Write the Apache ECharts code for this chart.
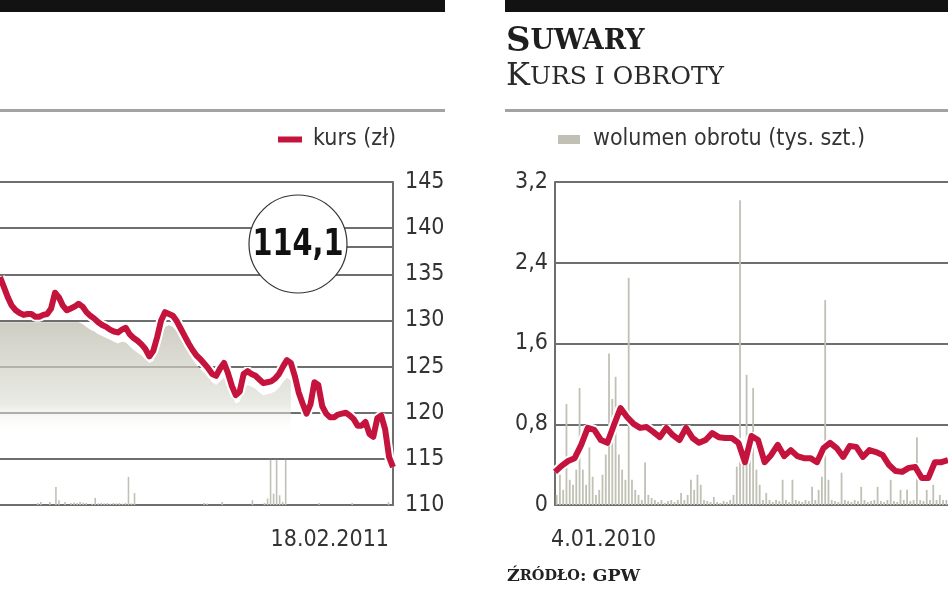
<!DOCTYPE html>
<html><head><meta charset="utf-8">
<script src="https://cdn.jsdelivr.net/npm/echarts@6/dist/echarts.min.js"></script>
<style>html,body{margin:0;padding:0;background:#fff}#c{width:948px;height:593px}</style>
</head><body><div id="c"></div>
<script>
// ---- LEFT CHART (cropped, right part visible) ----
const leftTickLabels = ['18.02.2011'];
const leftKurs = [134.7,133.6,132.5,131.6,131.1,130.8,130.6,130.7,130.7,130.4,130.4,130.6,130.7,131.3,133.0,132.5,131.6,131.1,131.3,131.5,
131.8,131.5,130.9,130.5,130.2,129.8,129.5,129.3,129.0,128.8,128.7,129.0,129.2,128.5,128.1,127.8,127.4,126.9,126.1,126.7,
128.2,130.0,130.9,130.7,130.5,129.9,129.1,128.3,127.5,126.8,126.2,125.8,125.3,124.8,124.2,124.0,124.8,125.4,124.3,122.9,
121.9,122.3,124.2,124.5,124.2,124.0,123.6,123.2,123.3,123.4,123.7,124.2,125.0,125.7,125.4,124.0,122.2,121.0,119.9,120.9,
123.3,123.0,120.7,119.9,119.5,119.5,119.8,119.9,120.0,119.7,119.3,118.6,118.6,119.0,117.7,117.4,119.4,119.7,118.2,115.2,114.1];
const leftTlo = [129.8,129.8,129.8,129.8,129.8,129.8,129.8,129.8,129.8,129.8,129.8,129.8,129.8,129.8,129.8,129.8,129.8,129.8,129.8,129.8,
129.8,129.6,129.3,129.0,128.8,128.5,128.3,128.1,127.9,127.7,127.5,127.7,127.6,127.2,126.8,126.5,126.2,125.8,125.4,125.6,
126.8,128.3,129.3,129.5,129.3,128.8,128.0,127.2,126.5,125.8,125.2,124.7,124.3,123.8,123.3,123.0,123.4,123.8,123.0,121.8,
121.0,121.2,122.5,123.0,122.8,122.6,122.2,121.9,122.0,122.1,122.3,122.7,123.3,123.8,123.5,null,null,null,null,null,
null,null,null,null,null,null,null,null,null,null,null,null,null,null,null,null,null,null,null,null,null];
const leftWolumen = [0,0,0,0,0,0,0,0,0,0,0,0,0.06,0.09,0,0,0.09,0,0.56,0.15,
0,0.09,0,0.06,0.08,0.06,0.09,0.07,0.06,0,0.04,0.22,0.05,0.06,0.05,0.06,0.04,0.06,0.05,0.06,
0.04,0.06,0.87,0.05,0.37,0,0,0,0,0,0,0,0,0,0,0,0,0,0,0,
0,0,0,0,0,0,0,0.06,0.05,0,0,0,0,0.09,0,0,0,0,0,0,
0,0,0,0.15,0,0,0,0.06,0.2,1.4,0.35,1.4,0.3,0.1,1.4,0,0,0,0,0,
0,0,0,0,0,0.06,0,0,0,0,0,0,0,0,0,0,0.06,0,0,0,
0,0,0,0,0,0,0,0,0.09,0];
const leftCallout = leftKurs[leftKurs.length - 1];

// ---- RIGHT CHART: SUWARY (cropped, left part visible) ----
const rightTickLabels = ['4.01.2010'];
const rightKurs = [68.2,69.7,70.9,71.6,74.9,79.1,78.6,76.1,75.4,79.8,84.0,81.8,80.1,79.1,79.3,78.1,76.8,79.1,77.3,76.1,
79.1,76.6,75.4,76.1,77.8,76.8,76.6,76.6,75.4,70.6,77.1,76.1,70.6,72.4,74.9,72.1,73.6,72.1,71.6,71.6,
70.6,74.1,75.4,74.1,71.9,74.6,74.4,71.9,73.6,73.1,72.4,69.9,68.4,68.2,69.2,69.4,66.7,66.7,70.6,70.6,71.1];
const rightWolumen = [0.1,0.3,0.15,1.0,0.25,0.2,0.35,1.16,0.35,0.2,0.57,0.28,0.1,0.15,0.3,0.5,1.5,1.05,1.27,0.5,
0.35,0.25,2.25,0.25,0.15,0.1,0.05,0.42,0.1,0.07,0.05,0.03,0.05,0.02,0.04,0.05,0.03,0.05,0.12,0.05,
0.1,0.25,0.15,0.3,0.2,0.05,0.04,0.03,0.08,0.03,0.02,0.04,0.03,0.05,0.1,0.38,3.02,0.4,1.29,0.45,
1.16,0.35,0.2,0.05,0.12,0.05,0.03,0.05,0.04,0.25,0.05,0.03,0.25,0.05,0.04,0.03,0.05,0.04,0.18,0.05,
0.15,0.28,2.03,0.25,0.05,0.04,0.03,0.32,0.05,0.04,0.03,0.05,0.04,0.18,0.05,0.03,0.04,0.05,0.18,0.04,
0.03,0.05,0.25,0.04,0.03,0.15,0.05,0.15,0.04,0.05,0.67,0.05,0.04,0.15,0.05,0.2,0.05,0.1,0.05,0.05];

const idx = n => Array.from({length: n}, (_, i) => String(i));
const RED = '#c4143e', GRAYBAR = '#c0c0b4', GRID = '#6e6e6e', TXT = '#333';
const AXFONT = 'DejaVu Sans Condensed';

const chart = echarts.init(document.getElementById('c'));
const axisLine = {show: true, lineStyle: {color: GRID, width: 2}};
chart.setOption({
  animation: false,
  backgroundColor: '#fff',
  legend: [
    {data: [{name: 'kurs (zł)', icon: 'rect'}], left: 278, top: 128, padding: 0, itemWidth: 24, itemHeight: 6,
     textStyle: {fontFamily: AXFONT, fontSize: 23, color: TXT, padding: [0, 0, 0, 6]}, selectedMode: false},
    {data: [{name: 'wolumen obrotu (tys. szt.)', icon: 'rect'}], left: 558, top: 128, padding: 0, itemWidth: 22, itemHeight: 9,
     textStyle: {fontFamily: AXFONT, fontSize: 23, color: TXT, padding: [0, 0, 0, 8]}, selectedMode: false}
  ],
  grid: [
    {left: 0, top: 182, width: 393, height: 323, containLabel: false},
    {left: 555, top: 182, width: 400, height: 323, containLabel: false}
  ],
  xAxis: [
    {type: 'category', gridIndex: 0, data: idx(leftKurs.length), boundaryGap: false,
     axisLine: axisLine, axisTick: {show: false}, splitLine: {show: false},
     axisLabel: {interval: (i) => i === leftKurs.length - 1, formatter: (v, i) => i === leftKurs.length - 1 ? leftTickLabels[0] : '',
       align: 'right', margin: 24, padding: [0, 4, 0, 0], fontFamily: AXFONT, fontSize: 23, color: TXT}},
    {type: 'category', gridIndex: 0, data: idx(leftWolumen.length), boundaryGap: true, show: false},
    {type: 'category', gridIndex: 1, data: idx(rightKurs.length), boundaryGap: false,
     axisLine: axisLine, axisTick: {show: false}, splitLine: {show: false},
     axisLabel: {interval: (i) => i === 0, formatter: (v, i) => i === 0 ? rightTickLabels[0] : '',
       align: 'left', margin: 24, padding: [0, 0, 0, -4], fontFamily: AXFONT, fontSize: 23, color: TXT}},
    {type: 'category', gridIndex: 1, data: idx(rightWolumen.length), boundaryGap: true, show: false}
  ],
  yAxis: [
    {type: 'value', gridIndex: 0, position: 'right', min: 110, max: 145, interval: 5,
     axisLine: axisLine, axisTick: {show: false},
     splitLine: {show: true, lineStyle: {color: GRID, width: 2}},
     axisLabel: {margin: 12, fontFamily: AXFONT, fontSize: 23, color: TXT}},
    {type: 'value', gridIndex: 0, min: 0, max: 10, show: false, splitLine: {show: false}},
    {type: 'value', gridIndex: 1, position: 'left', min: 0, max: 3.2, interval: 0.8,
     axisLine: axisLine, axisTick: {show: false},
     splitLine: {show: true, lineStyle: {color: GRID, width: 2}},
     axisLabel: {margin: 7, fontFamily: AXFONT, fontSize: 23, color: TXT,
       formatter: v => v === 0 ? '0' : v.toFixed(1).replace('.', ',')}},
    {type: 'value', gridIndex: 1, min: 60, max: 140, show: false, splitLine: {show: false}}
  ],
  series: [
    {name: 'tło', type: 'line', xAxisIndex: 0, yAxisIndex: 0, data: leftTlo, symbol: 'none',
     lineStyle: {width: 0}, z: 1,
     areaStyle: {origin: 'start', color: new echarts.graphic.LinearGradient(0, 0, 0, 1, [
       {offset: 0, color: '#b9b9ab'}, {offset: 0.45, color: '#e2e2da'}, {offset: 0.62, color: 'rgba(255,255,255,0)'}])}},
    {name: 'wolumen L', type: 'bar', xAxisIndex: 1, yAxisIndex: 1, data: leftWolumen, barWidth: 1.6,
     itemStyle: {color: GRAYBAR}, z: 2},
    {name: 'halo L', type: 'line', xAxisIndex: 0, yAxisIndex: 0, data: leftKurs, symbol: 'none',
     lineStyle: {width: 10, color: '#fff'}, z: 3, silent: true},
    {name: 'kurs (zł)', type: 'line', xAxisIndex: 0, yAxisIndex: 0, data: leftKurs, symbol: 'none',
     lineStyle: {width: 6, color: RED, join: 'round'}, itemStyle: {color: RED}, z: 4},
    {name: 'wolumen obrotu (tys. szt.)', type: 'bar', xAxisIndex: 3, yAxisIndex: 2, data: rightWolumen, barWidth: 1.8,
     itemStyle: {color: GRAYBAR}, z: 2},
    {name: 'halo R', type: 'line', xAxisIndex: 2, yAxisIndex: 3, data: rightKurs, symbol: 'none',
     lineStyle: {width: 10, color: '#fff'}, z: 3, silent: true},
    {name: 'kurs Suwary (zł)', type: 'line', xAxisIndex: 2, yAxisIndex: 3, data: rightKurs, symbol: 'none',
     lineStyle: {width: 6, color: RED, join: 'round'}, itemStyle: {color: RED}, z: 4}
  ],
  graphic: [
    {type: 'rect', shape: {x: 0, y: 0, width: 445, height: 12}, style: {fill: '#121212'}},
    {type: 'rect', shape: {x: 505, y: 0, width: 443, height: 12}, style: {fill: '#121212'}},
    {type: 'line', shape: {x1: 0, y1: 110.5, x2: 445, y2: 110.5}, style: {stroke: '#a3a3a3', lineWidth: 3}},
    {type: 'line', shape: {x1: 505, y1: 110.5, x2: 948, y2: 110.5}, style: {stroke: '#a3a3a3', lineWidth: 3}},
    {type: 'text', left: 506, top: 25, style: {
      text: '{a|S}{b|UWARY}', rich: {
        a: {fontFamily: 'DejaVu Serif', fontWeight: 'bold', fontSize: 34, fill: '#1e1e1e'},
        b: {fontFamily: 'DejaVu Serif', fontWeight: 'bold', fontSize: 27, fill: '#1e1e1e'}}}},
    {type: 'text', left: 506, top: 61, style: {
      text: '{a|K}{b|URS I OBROTY}', rich: {
        a: {fontFamily: 'DejaVu Serif', fontSize: 32, fill: '#2a2a2a'},
        b: {fontFamily: 'DejaVu Serif', fontSize: 25, fill: '#2a2a2a'}}}},
    {type: 'text', left: 507, top: 567, style: {
      text: '{a|Ź}{b|RÓDŁO}{a|: GPW}', rich: {
        a: {fontFamily: 'DejaVu Serif', fontWeight: 'bold', fontSize: 17.5, fill: '#222'},
        b: {fontFamily: 'DejaVu Serif', fontWeight: 'bold', fontSize: 14.5, fill: '#222'}}}},
    {type: 'line', shape: {x1: 346, y1: 247, x2: 393, y2: 247}, style: {stroke: GRID, lineWidth: 2}, z: 10},
    {type: 'circle', shape: {cx: 298, cy: 244, r: 49}, style: {fill: '#fff', stroke: '#333', lineWidth: 1.2}, z: 11},
    {type: 'text', x: 298, y: 245, scaleY: 1.15, z: 12, style: {
      text: leftCallout.toFixed(1).replace('.', ','), fontFamily: AXFONT, fontWeight: 'bold', fontSize: 32,
      fill: '#111', align: 'center', verticalAlign: 'middle'}}
  ]
});
</script></body></html>
